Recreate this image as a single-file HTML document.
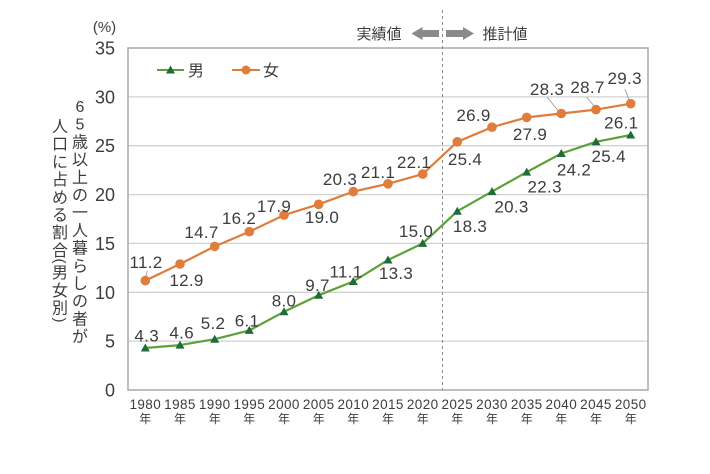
<!DOCTYPE html>
<html><head><meta charset="utf-8"><style>
html,body{margin:0;padding:0;background:#fff;}
svg{display:block;}
text{font-family:"Liberation Sans","Noto Sans CJK JP",sans-serif;fill:#3d3d3d;}
.jp{font-family:"Noto Sans CJK JP","Liberation Sans",sans-serif;}
.dl{font-size:17px;text-anchor:middle;letter-spacing:0.3px;}
.yt{font-size:18px;text-anchor:end;}
.xt{font-size:13.5px;text-anchor:middle;letter-spacing:0.4px;}
.xn{font-size:12px;text-anchor:middle;}
.vt{font-size:16px;text-anchor:middle;}
</style></head><body>
<svg width="710" height="474" viewBox="0 0 710 474" xmlns="http://www.w3.org/2000/svg">
<rect width="710" height="474" fill="#fff"/>
<!-- grid -->
<g stroke="#d2d2d2" stroke-width="1.3">
<line x1="128" y1="96.9" x2="648" y2="96.9"/>
<line x1="128" y1="145.7" x2="648" y2="145.7"/>
<line x1="128" y1="194.6" x2="648" y2="194.6"/>
<line x1="128" y1="243.4" x2="648" y2="243.4"/>
<line x1="128" y1="292.3" x2="648" y2="292.3"/>
<line x1="128" y1="341.1" x2="648" y2="341.1"/>
</g>
<rect x="128" y="48" width="520" height="342" fill="none" stroke="#a8a8a8" stroke-width="1.5"/>
<!-- dashed divider -->
<line x1="442.5" y1="10" x2="442.5" y2="390" stroke="#8a8a8a" stroke-width="1" stroke-dasharray="3,3"/>
<!-- arrows -->
<polygon points="411.5,33.5 422.5,27 422.5,30 439,30 439,37 422.5,37 422.5,40" fill="#8a8a8a"/>
<polygon points="474,33.5 463,27 463,30 446,30 446,37 463,37 463,40" fill="#8a8a8a"/>
<text class="jp" x="379" y="39" font-size="15" text-anchor="middle">実績値</text>
<text class="jp" x="505" y="39" font-size="15" text-anchor="middle">推計値</text>
<!-- (%) -->
<text x="104.5" y="32" font-size="15" text-anchor="middle">(%)</text>
<!-- y ticks -->
<text class="yt" x="115" y="54.5">35</text>
<text class="yt" x="115" y="103.4">30</text>
<text class="yt" x="115" y="152.2">25</text>
<text class="yt" x="115" y="201.1">20</text>
<text class="yt" x="115" y="249.9">15</text>
<text class="yt" x="115" y="298.8">10</text>
<text class="yt" x="115" y="347.6">5</text>
<text class="yt" x="115" y="396.5">0</text>
<!-- y title right column -->
<g class="jp">
<text class="vt" x="80" y="112">6</text>
<text class="vt" x="80" y="129.7">5</text>
<text class="vt" x="80" y="147.4">歳</text>
<text class="vt" x="80" y="165.1">以</text>
<text class="vt" x="80" y="182.8">上</text>
<text class="vt" x="80" y="200.5">の</text>
<text class="vt" x="80" y="218.2">一</text>
<text class="vt" x="80" y="235.9">人</text>
<text class="vt" x="80" y="253.6">暮</text>
<text class="vt" x="80" y="271.3">ら</text>
<text class="vt" x="80" y="289">し</text>
<text class="vt" x="80" y="306.7">の</text>
<text class="vt" x="80" y="324.4">者</text>
<text class="vt" x="80" y="342.1">が</text>
<!-- left column -->
<text class="vt" x="60" y="132">人</text>
<text class="vt" x="60" y="149.7">口</text>
<text class="vt" x="60" y="167.4">に</text>
<text class="vt" x="60" y="185.1">占</text>
<text class="vt" x="60" y="202.8">め</text>
<text class="vt" x="60" y="220.5">る</text>
<text class="vt" x="60" y="238.2">割</text>
<text class="vt" x="60" y="255.9">合</text>
<text class="vt" x="60" y="278">男</text>
<text class="vt" x="60" y="296">女</text>
<text class="vt" x="60" y="313.5">別</text>
</g>
<text x="0" y="0" font-size="15" text-anchor="middle" transform="translate(60,261) rotate(90) translate(0,5)">(</text>
<text x="0" y="0" font-size="15" text-anchor="middle" transform="translate(60,320) rotate(90) translate(0,5)">)</text>
<!-- legend -->
<line x1="157" y1="70" x2="184" y2="70" stroke="#5aa137" stroke-width="2"/>
<polygon points="170.5,65.5 166,73.5 175,73.5" fill="#1f6b3c"/>
<text class="jp" x="188" y="76" font-size="16">男</text>
<line x1="232" y1="70" x2="260" y2="70" stroke="#e07c3c" stroke-width="2"/>
<circle cx="246" cy="70" r="4.5" fill="#e07c3c"/>
<text class="jp" x="263" y="76" font-size="16">女</text>
<!-- female series -->
<polyline fill="none" stroke="#e07c3c" stroke-width="2.2" stroke-linejoin="round"
points="145.3,280.6 180,264 214.7,246.4 249.3,231.7 284,215.1 318.7,204.3 353.3,191.6 388,183.8 422.7,174.1 457.3,141.8 492,127.2 526.7,117.4 561.3,113.5 596,109.6 630.7,103.7"/>
<g fill="#e07c3c">
<circle cx="145.3" cy="280.6" r="4.8"/><circle cx="180" cy="264" r="4.8"/><circle cx="214.7" cy="246.4" r="4.8"/>
<circle cx="249.3" cy="231.7" r="4.8"/><circle cx="284" cy="215.1" r="4.8"/><circle cx="318.7" cy="204.3" r="4.8"/>
<circle cx="353.3" cy="191.6" r="4.8"/><circle cx="388" cy="183.8" r="4.8"/><circle cx="422.7" cy="174.1" r="4.8"/>
<circle cx="457.3" cy="141.8" r="4.8"/><circle cx="492" cy="127.2" r="4.8"/><circle cx="526.7" cy="117.4" r="4.8"/>
<circle cx="561.3" cy="113.5" r="4.8"/><circle cx="596" cy="109.6" r="4.8"/><circle cx="630.7" cy="103.7" r="4.8"/>
</g>
<!-- male series -->
<polyline fill="none" stroke="#5aa137" stroke-width="2.2" stroke-linejoin="round"
points="145.3,348 180,345.1 214.7,339.2 249.3,330.4 284,311.8 318.7,295.2 353.3,281.5 388,260 422.7,243.4 457.3,211.2 492,191.6 526.7,172.1 561.3,153.5 596,141.8 630.7,135"/>
<g fill="#1f6b3c">
<polygon points="145.3,343.5 140.8,351.5 149.8,351.5"/>
<polygon points="180,340.6 175.5,348.6 184.5,348.6"/>
<polygon points="214.7,334.7 210.2,342.7 219.2,342.7"/>
<polygon points="249.3,325.9 244.8,333.9 253.8,333.9"/>
<polygon points="284,307.3 279.5,315.3 288.5,315.3"/>
<polygon points="318.7,290.7 314.2,298.7 323.2,298.7"/>
<polygon points="353.3,277 348.8,285 357.8,285"/>
<polygon points="388,255.5 383.5,263.5 392.5,263.5"/>
<polygon points="422.7,238.9 418.2,246.9 427.2,246.9"/>
<polygon points="457.3,206.7 452.8,214.7 461.8,214.7"/>
<polygon points="492,187.1 487.5,195.1 496.5,195.1"/>
<polygon points="526.7,167.6 522.2,175.6 531.2,175.6"/>
<polygon points="561.3,149 556.8,157 565.8,157"/>
<polygon points="596,137.3 591.5,145.3 600.5,145.3"/>
<polygon points="630.7,130.5 626.2,138.5 635.2,138.5"/>
</g>
<!-- leader lines -->
<g stroke="#9a9a9a" stroke-width="0.9">
<line x1="147.5" y1="271" x2="145.5" y2="277"/>
<line x1="547" y1="97" x2="558" y2="110.5"/>
<line x1="586.7" y1="97" x2="594.5" y2="106.5"/>
<line x1="625" y1="89" x2="629" y2="100"/>
</g>
<!-- female labels -->
<text class="dl" x="146" y="268">11.2</text>
<text class="dl" x="186.5" y="286">12.9</text>
<text class="dl" x="201.5" y="238">14.7</text>
<text class="dl" x="239" y="224">16.2</text>
<text class="dl" x="274" y="212">17.9</text>
<text class="dl" x="322" y="223">19.0</text>
<text class="dl" x="340" y="185">20.3</text>
<text class="dl" x="378" y="178">21.1</text>
<text class="dl" x="414" y="168">22.1</text>
<text class="dl" x="465" y="165">25.4</text>
<text class="dl" x="473.5" y="121">26.9</text>
<text class="dl" x="530" y="140">27.9</text>
<text class="dl" x="547" y="95">28.3</text>
<text class="dl" x="587.5" y="93">28.7</text>
<text class="dl" x="624.7" y="84">29.3</text>
<!-- male labels -->
<text class="dl" x="146.7" y="341.7">4.3</text>
<text class="dl" x="181.7" y="338.7">4.6</text>
<text class="dl" x="213" y="329">5.2</text>
<text class="dl" x="247" y="326.7">6.1</text>
<text class="dl" x="284" y="306.7">8.0</text>
<text class="dl" x="317.5" y="291">9.7</text>
<text class="dl" x="346" y="277.7">11.1</text>
<text class="dl" x="396" y="279">13.3</text>
<text class="dl" x="416" y="237">15.0</text>
<text class="dl" x="470" y="232">18.3</text>
<text class="dl" x="511.5" y="212.7">20.3</text>
<text class="dl" x="544.7" y="192.7">22.3</text>
<text class="dl" x="574" y="175.3">24.2</text>
<text class="dl" x="608.7" y="162">25.4</text>
<text class="dl" x="621.3" y="128.7">26.1</text>
<!-- x labels -->
<g>
<text class="xt" x="145.3" y="409">1980</text>
<text class="xt" x="180" y="409">1985</text>
<text class="xt" x="214.7" y="409">1990</text>
<text class="xt" x="249.3" y="409">1995</text>
<text class="xt" x="284" y="409">2000</text>
<text class="xt" x="318.7" y="409">2005</text>
<text class="xt" x="353.3" y="409">2010</text>
<text class="xt" x="388" y="409">2015</text>
<text class="xt" x="422.7" y="409">2020</text>
<text class="xt" x="457.3" y="409">2025</text>
<text class="xt" x="492" y="409">2030</text>
<text class="xt" x="526.7" y="409">2035</text>
<text class="xt" x="561.3" y="409">2040</text>
<text class="xt" x="596" y="409">2045</text>
<text class="xt" x="630.7" y="409">2050</text>
</g>
<g class="jp">
<text class="xn" x="145.3" y="423">年</text>
<text class="xn" x="180" y="423">年</text>
<text class="xn" x="214.7" y="423">年</text>
<text class="xn" x="249.3" y="423">年</text>
<text class="xn" x="284" y="423">年</text>
<text class="xn" x="318.7" y="423">年</text>
<text class="xn" x="353.3" y="423">年</text>
<text class="xn" x="388" y="423">年</text>
<text class="xn" x="422.7" y="423">年</text>
<text class="xn" x="457.3" y="423">年</text>
<text class="xn" x="492" y="423">年</text>
<text class="xn" x="526.7" y="423">年</text>
<text class="xn" x="561.3" y="423">年</text>
<text class="xn" x="596" y="423">年</text>
<text class="xn" x="630.7" y="423">年</text>
</g>
</svg>
</body></html>
